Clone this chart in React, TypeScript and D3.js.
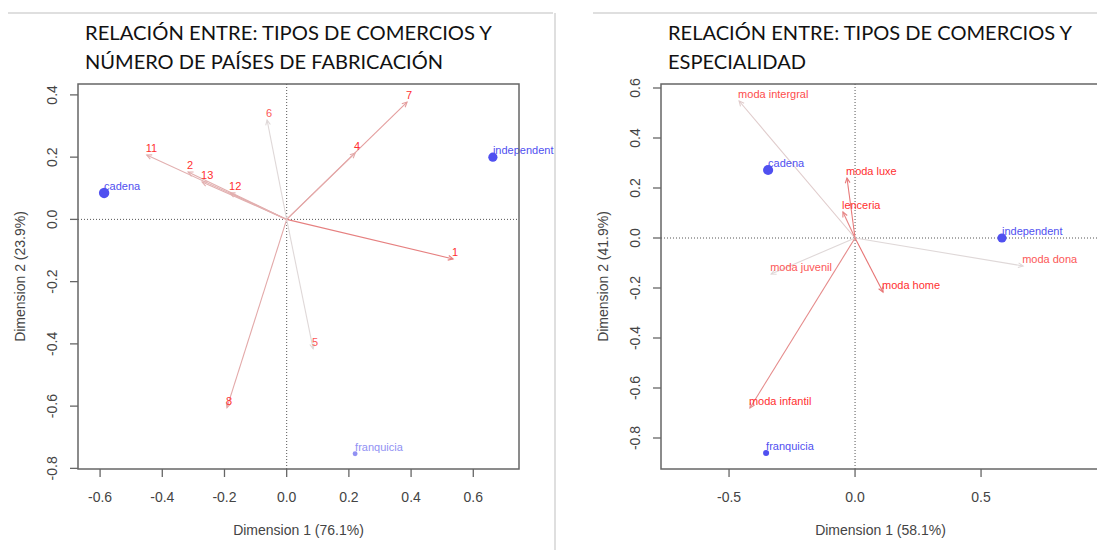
import * as d3 from "d3";
import React from "react";

// ---- left chart: tipos de comercio x número de países de fabricación
const leftRowLabels = ["cadena", "independent", "franquicia"];
const leftRowDim1 = [-0.587, 0.663, 0.22];
const leftRowDim2 = [0.085, 0.2, -0.753];
const leftRowMass = [0.9, 0.7, 0.2];
const leftRowQuality = [1, 1, 0.35];

const leftColLabels = ["1", "7", "4", "6", "11", "2", "13", "12", "8", "5"];
const leftColDim1 = [0.535, 0.387, 0.22, -0.063, -0.45, -0.317, -0.272, -0.182, -0.192, 0.085];
const leftColDim2 = [-0.127, 0.377, 0.213, 0.319, 0.207, 0.152, 0.12, 0.085, -0.605, -0.416];
const leftColQuality = [0.8, 0.55, 0.45, 0.05, 0.4, 0.4, 0.4, 0.4, 0.45, 0.05];

const leftXTicks = [-0.6, -0.4, -0.2, 0.0, 0.2, 0.4, 0.6];
const leftYTicks = [-0.8, -0.6, -0.4, -0.2, 0.0, 0.2, 0.4];

// ---- right chart: tipos de comercio x especialidad
const rightRowLabels = ["cadena", "independent", "franquicia"];
const rightRowDim1 = [-0.345, 0.583, -0.353];
const rightRowDim2 = [0.272, 0.0, -0.86];
const rightRowMass = [0.85, 0.7, 0.3];
const rightRowQuality = [1, 1, 1];

const rightColLabels = ["moda intergral", "moda luxe", "lenceria", "moda dona", "moda home", "moda juvenil", "moda infantil"];
const rightColDim1 = [-0.46, -0.032, -0.048, 0.667, 0.111, -0.333, -0.417];
const rightColDim2 = [0.548, 0.24, 0.104, -0.112, -0.216, -0.144, -0.68];
const rightColQuality = [0.15, 0.85, 0.75, 0.05, 0.9, 0.05, 0.7];

const rightXTicks = [-0.5, 0.0, 0.5];
const rightYTicks = [-0.8, -0.6, -0.4, -0.2, 0.0, 0.2, 0.4, 0.6];

const axisFont = "'Liberation Sans', Arial, sans-serif";
const titleFont = "Lato, 'Open Sans', sans-serif";

const arrowColor = d3.interpolateRgb("#dedede", "#e86868");
const colLabelColor = d3.interpolateRgb("#f7a0a0", "#ff3030");
const rowColor = d3.interpolateRgb("#b4b4f4", "#5050f0");
const dotSize = d3.scaleSqrt().domain([0, 1]).range([0, 5.5]);

function headPath(x0: number, y0: number, x1: number, y1: number) {
  const a = Math.atan2(y1 - y0, x1 - x0);
  const len = 5.5, ang = Math.PI / 7;
  const p1 = [x1 - len * Math.cos(a - ang), y1 - len * Math.sin(a - ang)];
  const p2 = [x1 - len * Math.cos(a + ang), y1 - len * Math.sin(a + ang)];
  return `M${p1[0]},${p1[1]}L${x1},${y1}L${p2[0]},${p2[1]}`;
}

function Biplot(props: any) {
  const { xlim, ylim, box, xTicks, yTicks, xTitle, yTitle, rows, cols } = props;
  const [left, top, right, bottom] = box;
  const x = d3.scaleLinear().domain(xlim).range([left, right]);
  const y = d3.scaleLinear().domain(ylim).range([bottom, top]);
  const ox = x(0), oy = y(0);

  return (
    <g fontFamily={axisFont}>
      {/* origin guides */}
      <line x1={left} x2={right} y1={oy} y2={oy} stroke="#555" strokeWidth={1} strokeDasharray="1 2" />
      <line x1={ox} x2={ox} y1={top} y2={bottom} stroke="#555" strokeWidth={1} strokeDasharray="1 2" />

      {/* column arrows */}
      {cols.labels.map((lab: string, i: number) => {
        const px = x(cols.d1[i]), py = y(cols.d2[i]);
        const c = arrowColor(cols.q[i]);
        return (
          <g key={"a" + i}>
            <line x1={ox} y1={oy} x2={px} y2={py} stroke={c} strokeWidth={1.1} />
            <path d={headPath(ox, oy, px, py)} fill="none" stroke={c} strokeWidth={1.1} />
          </g>
        );
      })}
      {cols.labels.map((lab: string, i: number) => (
        <text key={"cl" + i} x={x(cols.d1[i]) - 1} y={y(cols.d2[i]) - 3} fontSize={11}
          fill={colLabelColor(Math.min(1, cols.q[i] + 0.6))}>{lab}</text>
      ))}

      {/* row points */}
      {rows.labels.map((lab: string, i: number) => {
        const px = x(rows.d1[i]), py = y(rows.d2[i]);
        const c = rowColor(rows.q[i]);
        return (
          <g key={"r" + i}>
            <circle cx={px} cy={py} r={dotSize(rows.m[i])} fill={c} />
            <text x={px} y={py - 3} fontSize={11} fill={c}>{lab}</text>
          </g>
        );
      })}

      {/* frame */}
      <rect x={left} y={top} width={right - left} height={bottom - top} fill="none" stroke="#666" strokeWidth={1.5} />

      {/* x axis */}
      {xTicks.map((t: number) => (
        <g key={"xt" + t}>
          <line x1={x(t)} x2={x(t)} y1={bottom} y2={bottom + 8} stroke="#666" strokeWidth={1.3} />
          <text x={x(t)} y={bottom + 33} fontSize={14} fill="#444" textAnchor="middle">{t.toFixed(1)}</text>
        </g>
      ))}
      <text x={(left + right) / 2} y={bottom + 66} fontSize={14} fill="#444" textAnchor="middle">{xTitle}</text>

      {/* y axis */}
      {yTicks.map((t: number) => (
        <g key={"yt" + t}>
          <line x1={left - 8} x2={left} y1={y(t)} y2={y(t)} stroke="#666" strokeWidth={1.3} />
          <text transform={`translate(${left - 21},${y(t)}) rotate(-90)`} fontSize={14} fill="#444" textAnchor="middle">{t.toFixed(1)}</text>
        </g>
      ))}
      <text transform={`translate(${left - 53},${(top + bottom) / 2}) rotate(-90)`} fontSize={14} fill="#444" textAnchor="middle">{yTitle}</text>
    </g>
  );
}

function Title({ x, lines }: { x: number; lines: [string, number][] }) {
  return (
    <g fontFamily={titleFont} fontSize={20} fill="#111">
      {lines.map(([s, len], i) => (
        <text key={i} x={x} y={40 + i * 29} textLength={len} lengthAdjust="spacingAndGlyphs">{s}</text>
      ))}
    </g>
  );
}

export default function App() {
  return (
    <svg width={1097} height={550} style={{ position: "absolute", left: 0, top: 0, background: "#fff" }}>
      {/* slide panel borders */}
      <line x1={8} x2={553} y1={13} y2={13} stroke="#d4d4d4" strokeWidth={1.5} />
      <line x1={555} x2={555} y1={13} y2={550} stroke="#d4d4d4" strokeWidth={1.5} />
      <line x1={593} x2={1097} y1={13} y2={13} stroke="#d4d4d4" strokeWidth={1.5} />

      <Title x={85} lines={[["RELACIÓN ENTRE: TIPOS DE COMERCIOS Y", 407], ["NÚMERO DE PAÍSES DE FABRICACIÓN", 358]]} />
      <Title x={668} lines={[["RELACIÓN ENTRE: TIPOS DE COMERCIOS Y", 404], ["ESPECIALIDAD", 138]]} />

      <Biplot
        xlim={[-0.671, 0.747]} ylim={[-0.802, 0.435]} box={[78, 84, 519, 469]}
        xTicks={leftXTicks} yTicks={leftYTicks}
        xTitle="Dimension 1 (76.1%)" yTitle="Dimension 2 (23.9%)"
        rows={{ labels: leftRowLabels, d1: leftRowDim1, d2: leftRowDim2, m: leftRowMass, q: leftRowQuality }}
        cols={{ labels: leftColLabels, d1: leftColDim1, d2: leftColDim2, q: leftColQuality }}
      />
      <Biplot
        xlim={[-0.77, 0.972]} ylim={[-0.924, 0.616]} box={[661, 84, 1100, 469]}
        xTicks={rightXTicks} yTicks={rightYTicks}
        xTitle="Dimension 1 (58.1%)" yTitle="Dimension 2 (41.9%)"
        rows={{ labels: rightRowLabels, d1: rightRowDim1, d2: rightRowDim2, m: rightRowMass, q: rightRowQuality }}
        cols={{ labels: rightColLabels, d1: rightColDim1, d2: rightColDim2, q: rightColQuality }}
      />
    </svg>
  );
}
